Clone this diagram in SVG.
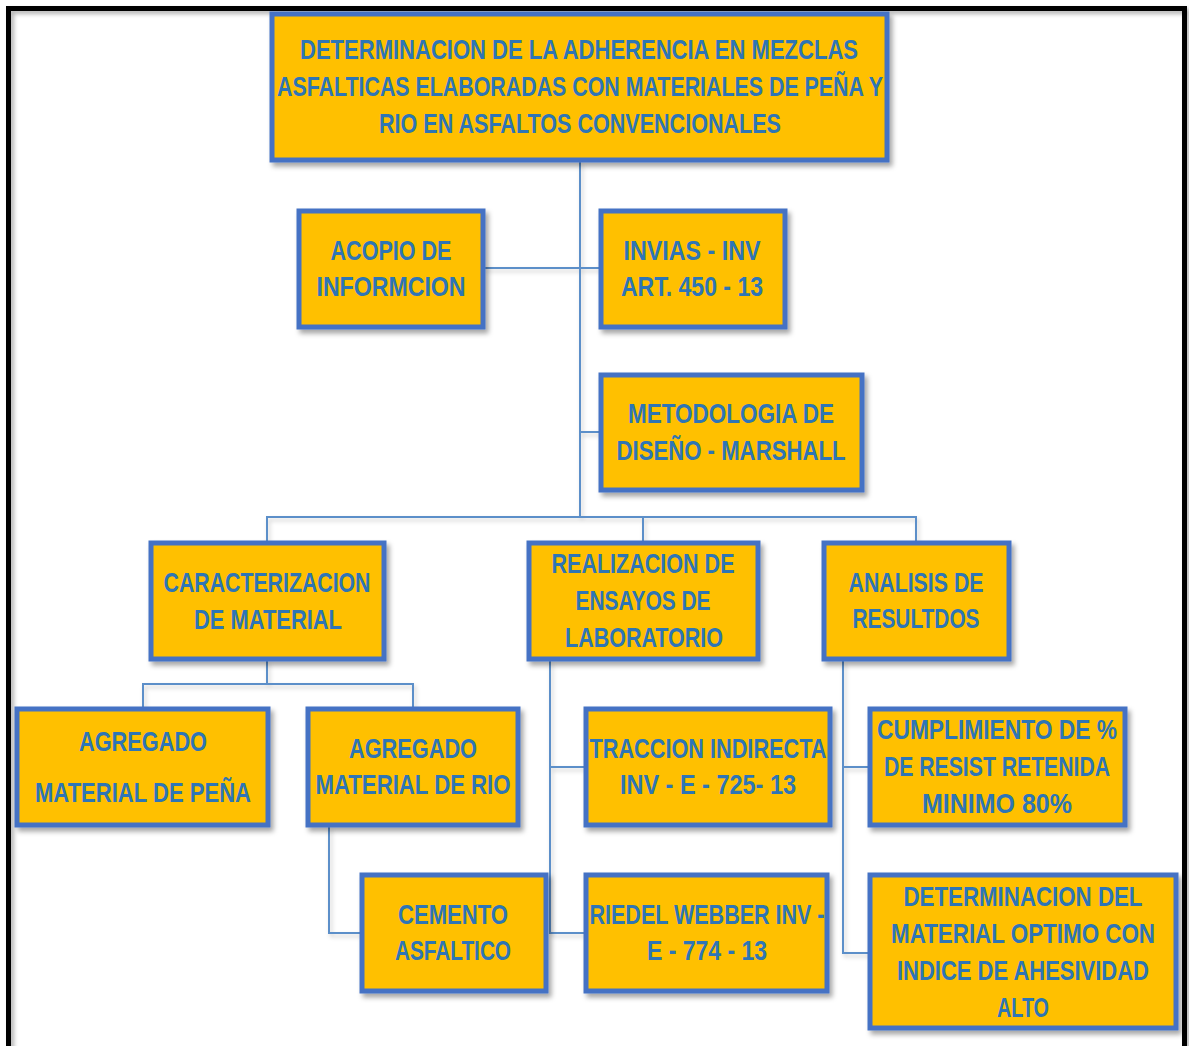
<svg xmlns="http://www.w3.org/2000/svg" width="1189" height="1046" viewBox="0 0 1189 1046">
<defs>
<filter id="sh" x="-10%" y="-10%" width="130%" height="130%">
<feDropShadow dx="3" dy="4" stdDeviation="2.5" flood-color="#000" flood-opacity="0.35"/>
</filter>
<filter id="lsh" x="-10%" y="-10%" width="130%" height="130%">
<feDropShadow dx="2" dy="3" stdDeviation="2" flood-color="#000" flood-opacity="0.2"/>
</filter>
<filter id="fsh" x="-5%" y="-5%" width="110%" height="110%">
<feDropShadow dx="3" dy="3" stdDeviation="2" flood-color="#000" flood-opacity="0.3"/>
</filter>
</defs>
<style>
.box{fill:#FFC000;stroke:#4472C4;stroke-width:5;filter:url(#sh)}
.t{font-family:"Liberation Sans Narrow","Liberation Sans",Arial,sans-serif;font-weight:bold;font-size:28px;fill:#2E75B6;text-anchor:middle}
.c{fill:none;stroke:#5B8FC9;stroke-width:2}
</style>
<rect x="0" y="0" width="1189" height="1046" fill="#fff"/>
<rect x="8.5" y="8.5" width="1176" height="1060" fill="none" stroke="#000" stroke-width="5" filter="url(#fsh)"/>

<g id="connectors" filter="url(#lsh)">
<path class="c" d="M580,162 V517"/>
<path class="c" d="M484,268 H599"/>
<path class="c" d="M580,432 H599"/>
<path class="c" d="M267,541 V517 H916 V541"/>
<path class="c" d="M643,517 V541"/>
<path class="c" d="M267,661 V684"/>
<path class="c" d="M143,707 V684 H413 V707"/>
<path class="c" d="M329,827 V933 H360"/>
<path class="c" d="M550,661 V933 H584"/>
<path class="c" d="M550,767 H584"/>
<path class="c" d="M843,661 V953 H868"/>
<path class="c" d="M843,767 H868"/>
</g>

<g id="n_titulo">
<rect class="box" x="272" y="14" width="615" height="146"/>
<text class="t" x="579" y="59" textLength="558" lengthAdjust="spacingAndGlyphs">DETERMINACION DE LA ADHERENCIA EN MEZCLAS</text>
<text class="t" x="580" y="96" textLength="606" lengthAdjust="spacingAndGlyphs">ASFALTICAS ELABORADAS CON MATERIALES DE PEÑA Y</text>
<text class="t" x="580" y="133" textLength="402" lengthAdjust="spacingAndGlyphs">RIO EN ASFALTOS CONVENCIONALES</text>
</g>

<g id="n_acopio">
<rect class="box" x="299" y="211" width="184" height="116"/>
<text class="t" x="391" y="260" textLength="121" lengthAdjust="spacingAndGlyphs">ACOPIO DE</text>
<text class="t" x="391" y="296" textLength="149" lengthAdjust="spacingAndGlyphs">INFORMCION</text>
</g>

<g id="n_invias">
<rect class="box" x="601" y="211" width="184" height="116"/>
<text class="t" x="692" y="260" textLength="137" lengthAdjust="spacingAndGlyphs">INVIAS - INV</text>
<text class="t" x="692" y="296" textLength="142" lengthAdjust="spacingAndGlyphs">ART. 450 - 13</text>
</g>

<g id="n_metodologia">
<rect class="box" x="601" y="375" width="261" height="115"/>
<text class="t" x="731" y="423" textLength="206" lengthAdjust="spacingAndGlyphs">METODOLOGIA  DE</text>
<text class="t" x="731" y="460" textLength="229" lengthAdjust="spacingAndGlyphs">DISEÑO - MARSHALL</text>
</g>

<g id="n_caracterizacion">
<rect class="box" x="151" y="543" width="233" height="116"/>
<text class="t" x="267" y="592" textLength="207" lengthAdjust="spacingAndGlyphs">CARACTERIZACION</text>
<text class="t" x="268" y="629" textLength="148" lengthAdjust="spacingAndGlyphs">DE MATERIAL</text>
</g>

<g id="n_realizacion">
<rect class="box" x="529" y="543" width="229" height="116"/>
<text class="t" x="643" y="573" textLength="183" lengthAdjust="spacingAndGlyphs">REALIZACION DE</text>
<text class="t" x="643" y="610" textLength="135" lengthAdjust="spacingAndGlyphs">ENSAYOS DE</text>
<text class="t" x="644" y="647" textLength="158" lengthAdjust="spacingAndGlyphs">LABORATORIO</text>
</g>

<g id="n_analisis">
<rect class="box" x="824" y="543" width="185" height="116"/>
<text class="t" x="916" y="592" textLength="135" lengthAdjust="spacingAndGlyphs">ANALISIS DE</text>
<text class="t" x="916" y="628" textLength="127" lengthAdjust="spacingAndGlyphs">RESULTDOS</text>
</g>

<g id="n_agregado_pena">
<rect class="box" x="17" y="709" width="251" height="116"/>
<text class="t" x="143" y="751" textLength="128" lengthAdjust="spacingAndGlyphs">AGREGADO</text>
<text class="t" x="143" y="802" textLength="216" lengthAdjust="spacingAndGlyphs">MATERIAL DE PEÑA</text>
</g>

<g id="n_agregado_rio">
<rect class="box" x="308" y="709" width="210" height="116"/>
<text class="t" x="413" y="758" textLength="128" lengthAdjust="spacingAndGlyphs">AGREGADO</text>
<text class="t" x="413" y="794" textLength="195" lengthAdjust="spacingAndGlyphs">MATERIAL DE RIO</text>
</g>

<g id="n_cemento">
<rect class="box" x="362" y="875" width="184" height="116"/>
<text class="t" x="453" y="924" textLength="110" lengthAdjust="spacingAndGlyphs">CEMENTO</text>
<text class="t" x="453" y="960" textLength="116" lengthAdjust="spacingAndGlyphs">ASFALTICO</text>
</g>

<g id="n_traccion">
<rect class="box" x="586" y="709" width="244" height="116"/>
<text class="t" x="708" y="758" textLength="237" lengthAdjust="spacingAndGlyphs">TRACCION INDIRECTA</text>
<text class="t" x="708" y="794" textLength="176" lengthAdjust="spacingAndGlyphs">INV - E - 725- 13</text>
</g>

<g id="n_riedel">
<rect class="box" x="586" y="875" width="241" height="116"/>
<text class="t" x="707" y="924" textLength="235" lengthAdjust="spacingAndGlyphs">RIEDEL WEBBER INV -</text>
<text class="t" x="707" y="960" textLength="120" lengthAdjust="spacingAndGlyphs">E - 774 - 13</text>
</g>

<g id="n_cumplimiento">
<rect class="box" x="870" y="709" width="255" height="116"/>
<text class="t" x="997" y="739" textLength="240" lengthAdjust="spacingAndGlyphs">CUMPLIMIENTO DE %</text>
<text class="t" x="997" y="776" textLength="226" lengthAdjust="spacingAndGlyphs">DE RESIST RETENIDA</text>
<text class="t" x="997" y="813" textLength="150" lengthAdjust="spacingAndGlyphs">MINIMO 80%</text>
</g>

<g id="n_determinacion">
<rect class="box" x="870" y="875" width="306" height="153"/>
<text class="t" x="1023" y="906" textLength="239" lengthAdjust="spacingAndGlyphs">DETERMINACION DEL</text>
<text class="t" x="1023" y="943" textLength="264" lengthAdjust="spacingAndGlyphs">MATERIAL OPTIMO CON</text>
<text class="t" x="1023" y="980" textLength="252" lengthAdjust="spacingAndGlyphs">INDICE DE AHESIVIDAD</text>
<text class="t" x="1023" y="1017" textLength="52" lengthAdjust="spacingAndGlyphs">ALTO</text>
</g>
</svg>
